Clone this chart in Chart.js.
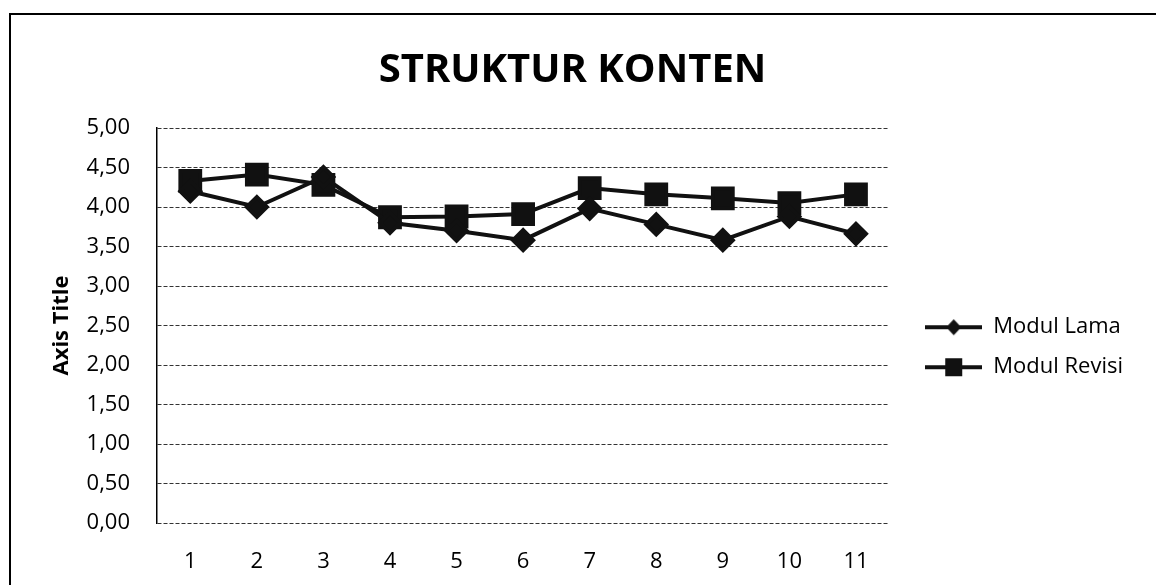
<!DOCTYPE html>
<html>
<head>
<meta charset="utf-8">
<script src="https://cdn.jsdelivr.net/npm/chart.js@4/dist/chart.umd.min.js"></script>
<style>
  html, body { margin: 0; padding: 0; background: #fff; }
  #wrap { width: 1156px; height: 585px; }
</style>
</head>
<body>
<div id="wrap"><canvas id="kontenChart" width="1156" height="585"></canvas></div>
<script>
// data
const categories = ['1', '2', '3', '4', '5', '6', '7', '8', '9', '10', '11'];
const modulLama = [4.20, 4.00, 4.38, 3.80, 3.70, 3.58, 3.98, 3.78, 3.58, 3.88, 3.66];
const modulRevisi = [4.33, 4.41, 4.28, 3.87, 3.88, 3.91, 4.24, 4.16, 4.11, 4.05, 4.16];
const yTickLabels = ['0,00', '0,50', '1,00', '1,50', '2,00', '2,50', '3,00', '3,50', '4,00', '4,50', '5,00'];

const FONT = 'Open Sans';
const INK = '#111';

// little legend icons: line with the marker in the middle
function legendIcon(shape) {
  const c = document.createElement('canvas');
  c.width = 57; c.height = 22;
  const g = c.getContext('2d');
  g.fillStyle = INK;
  g.fillRect(0, 9, 57, 4);
  if (shape === 'diamond') {
    g.beginPath();
    g.moveTo(28.5, 3); g.lineTo(36, 11); g.lineTo(28.5, 19); g.lineTo(21, 11);
    g.closePath(); g.fill();
  } else {
    g.fillRect(20, 2, 17, 18);
  }
  return c;
}
const legendIcons = [legendIcon('diamond'), legendIcon('square')];

// frame lines of the scanned chart box
const framePlugin = {
  id: 'frame',
  beforeDraw(chart) {
    const ctx = chart.ctx;
    ctx.save();
    ctx.fillStyle = '#fff';
    ctx.fillRect(0, 0, chart.width, chart.height);
    ctx.strokeStyle = '#000';
    ctx.lineWidth = 2;
    ctx.beginPath();
    ctx.moveTo(10, chart.height); ctx.lineTo(10, 14); ctx.lineTo(chart.width, 14);
    ctx.stroke();
    ctx.restore();
  }
};

new Chart(document.getElementById('kontenChart').getContext('2d'), {
  type: 'line',
  data: {
    labels: categories,
    datasets: [{
      label: 'Modul Lama',
      data: modulLama,
      borderColor: INK,
      backgroundColor: INK,
      borderWidth: 4,
      pointStyle: 'rectRot',
      pointRadius: 10,
      pointHoverRadius: 10,
      tension: 0
    }, {
      label: 'Modul Revisi',
      data: modulRevisi,
      borderColor: INK,
      backgroundColor: INK,
      borderWidth: 4,
      pointStyle: 'rect',
      pointRadius: 14,
      pointHoverRadius: 14,
      tension: 0
    }]
  },
  options: {
    responsive: false,
    animation: false,
    layout: { padding: { left: 12, top: 16, right: 23, bottom: 12 } },
    plugins: {
      title: {
        display: true,
        text: 'STRUKTUR KONTEN',
        color: '#000',
        font: { family: FONT, size: 40, weight: 'bold' },
        padding: { top: 31, bottom: 33 }
      },
      legend: {
        position: 'right',
        fullSize: false,
        maxWidth: 300,
        title: { display: true, text: '', padding: { top: 29, bottom: 0 } },
        labels: {
          usePointStyle: true,
          pointStyleWidth: 57,
          padding: 18,
          color: '#000',
          font: { family: FONT, size: 22 },
          generateLabels(chart) {
            const items = Chart.defaults.plugins.legend.labels.generateLabels(chart);
            items.forEach((it, i) => { it.pointStyle = legendIcons[i]; });
            return items;
          }
        }
      },
      tooltip: { enabled: false }
    },
    scales: {
      x: {
        offset: true,
        afterFit(scale) { scale.height = 50; },
        grid: { display: false, drawTicks: false },
        border: { display: false },
        ticks: { color: '#000', padding: 26, font: { family: FONT, size: 22 } }
      },
      y: {
        min: 0,
        max: 5,
        afterFit(scale) { scale.width = 145; },
        grid: { color: '#333', lineWidth: 1, drawTicks: false },
        border: { display: true, color: '#000', width: 1.5, dash: [4, 2] },
        ticks: {
          stepSize: 0.5,
          padding: 27,
          color: '#000',
          font: { family: FONT, size: 22 },
          callback: (v, i) => yTickLabels[i]
        },
        title: {
          display: true,
          text: 'Axis Title',
          color: '#000',
          font: { family: FONT, size: 22, weight: 'bold' },
          padding: { top: 37, bottom: 0 }
        }
      },
      gap: {
        type: 'linear',
        position: 'right',
        afterFit(scale) { scale.width = 18; },
        grid: { display: false },
        border: { display: false },
        ticks: { display: false }
      }
    }
  },
  plugins: [framePlugin]
});
</script>
</body>
</html>
